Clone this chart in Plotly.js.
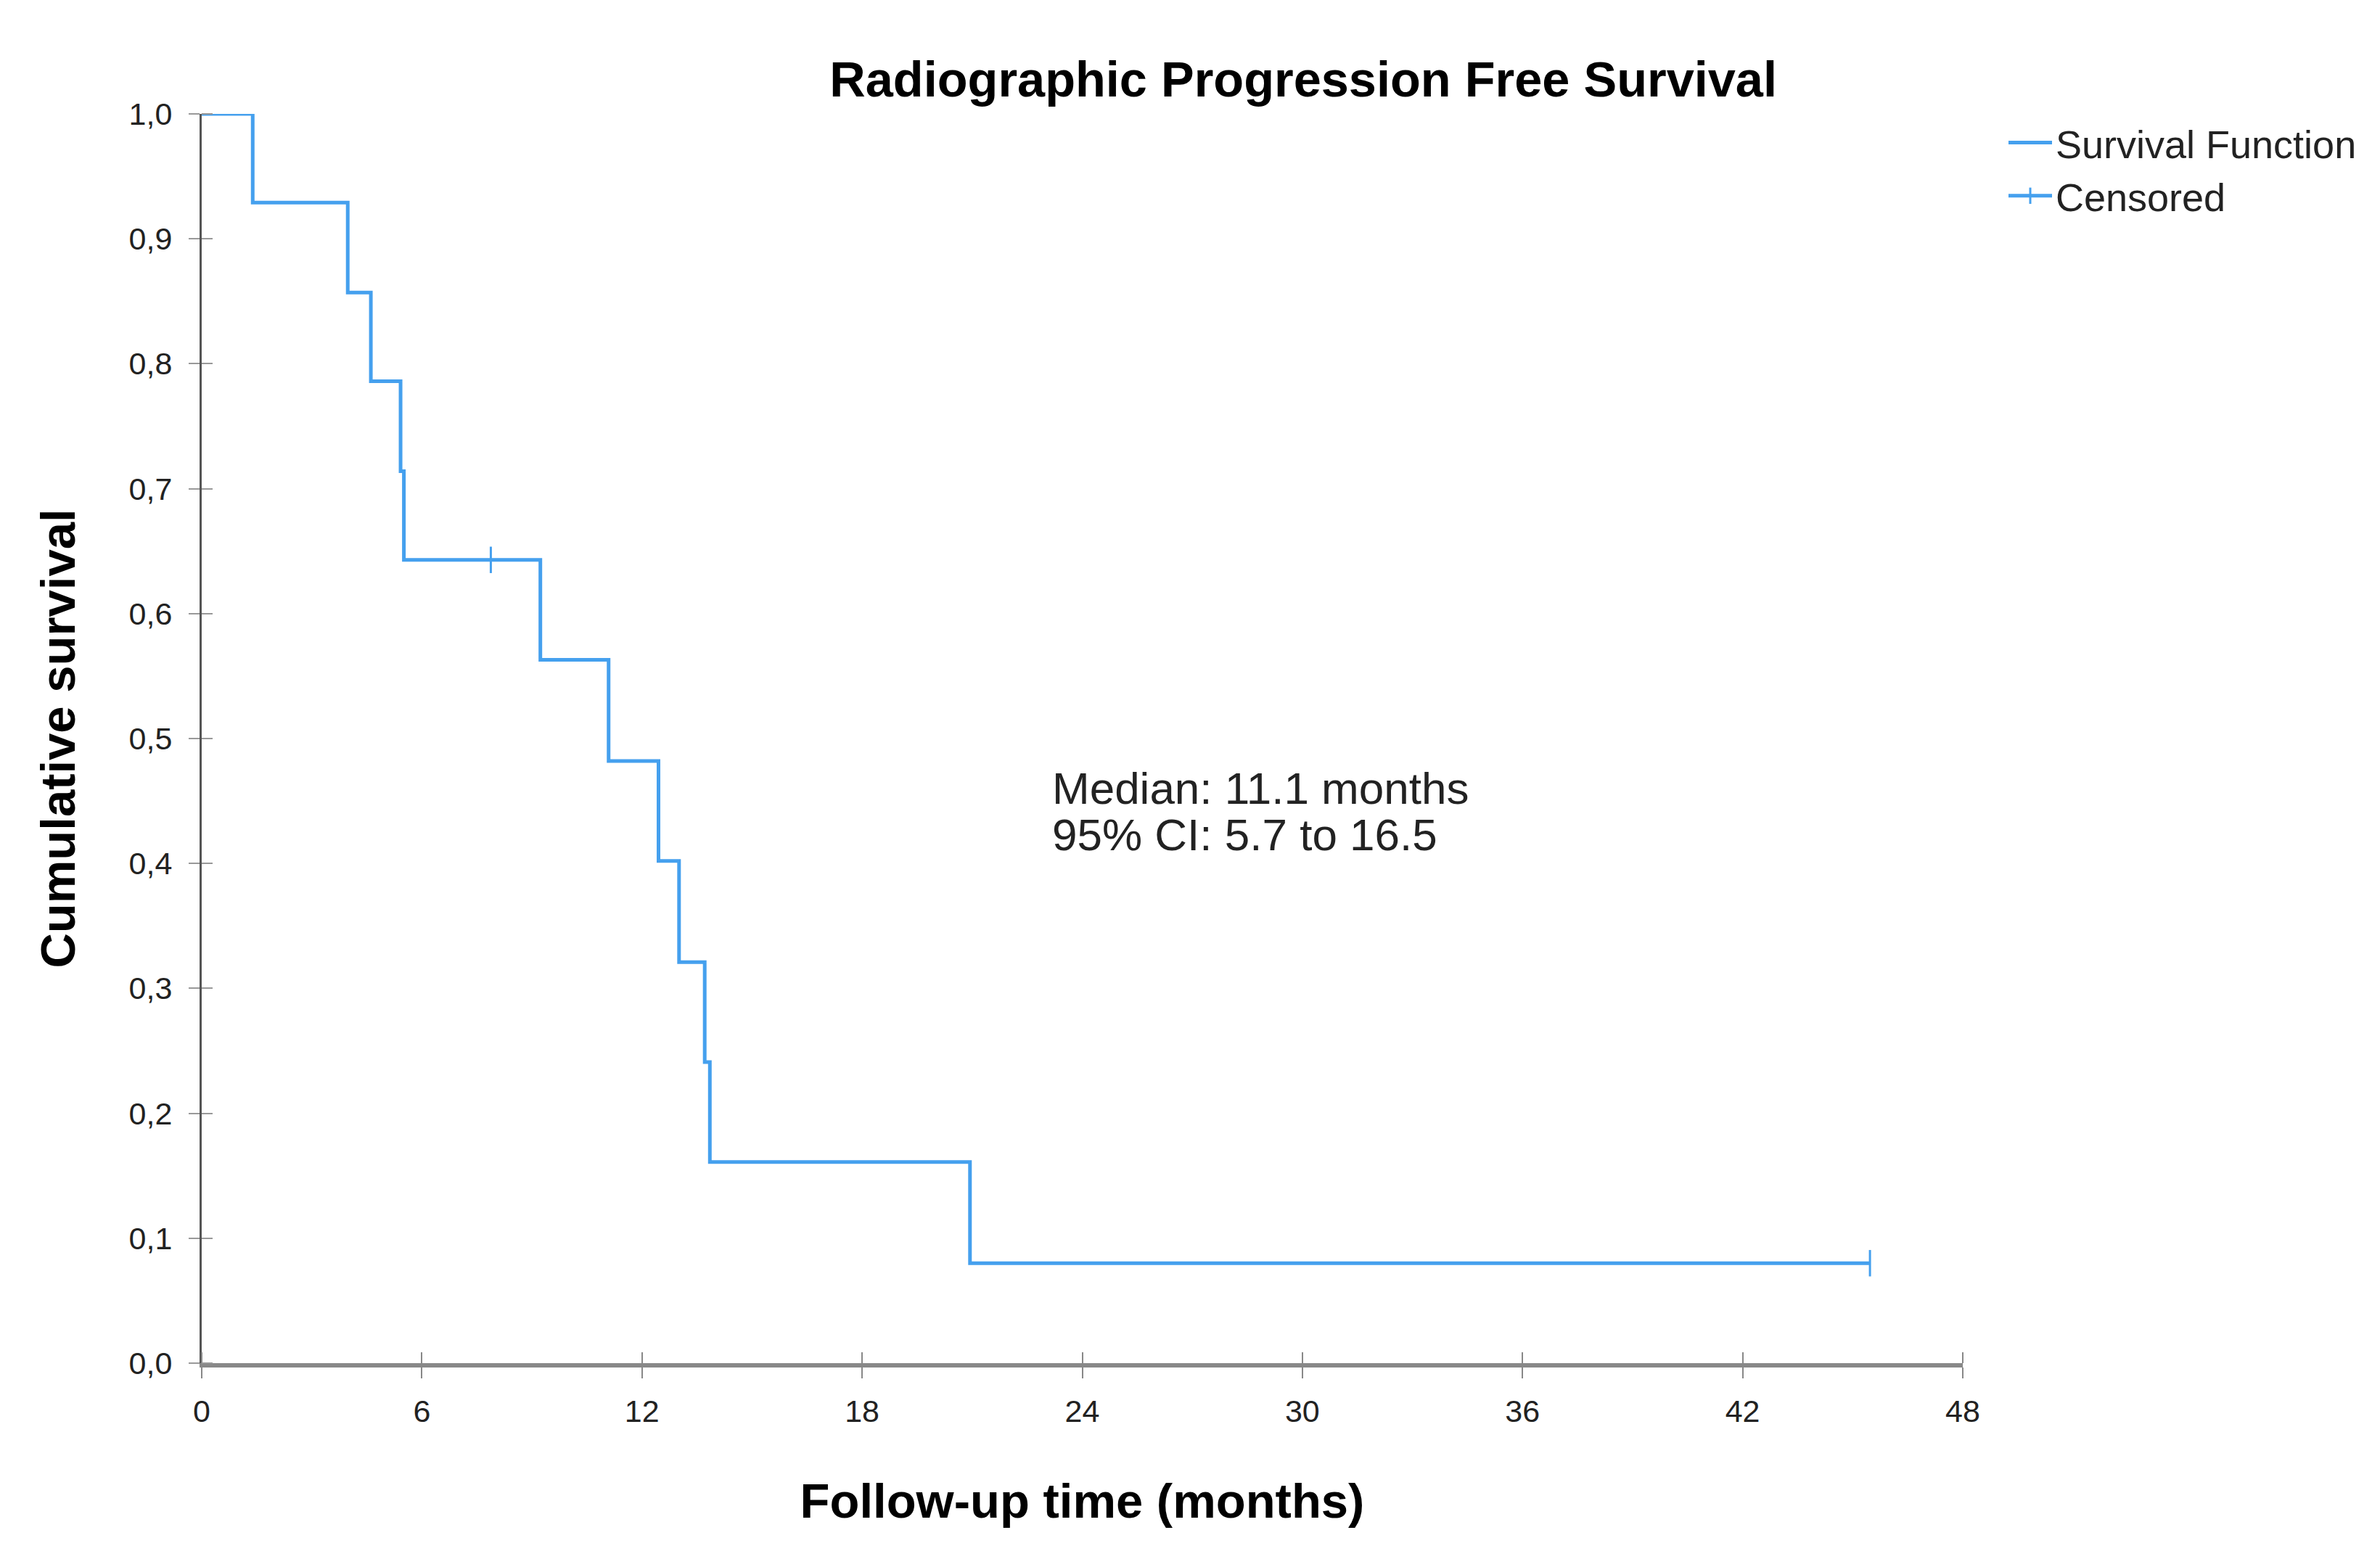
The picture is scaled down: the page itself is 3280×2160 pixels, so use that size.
<!DOCTYPE html>
<html>
<head>
<meta charset="utf-8">
<script src="https://cdn.plot.ly/plotly-3.0.1.min.js"></script>
<style>html,body{margin:0;padding:0;background:#fff;}#chart{width:3280px;height:2160px;}</style>
</head>
<body>
<div id="chart"></div>
<script>
// Kaplan-Meier step data (months, cumulative survival)
const stepTimes = [0, 1.39, 3.98, 4.61, 5.42, 5.51, 9.23, 11.09, 12.45, 13.01, 13.71, 13.85, 20.94, 45.47];
const stepSurvival = [1.0, 0.929, 0.857, 0.786, 0.714, 0.643, 0.563, 0.482, 0.402, 0.321, 0.241, 0.161, 0.080, 0.080];
// Censored observations
const censorTimes = [7.88, null, 45.47];
const censorSurvival = [0.643, null, 0.080];
// Axis ticks
const xTicks = [0, 6, 12, 18, 24, 30, 36, 42, 48];
const yTicks = [0, 0.1, 0.2, 0.3, 0.4, 0.5, 0.6, 0.7, 0.8, 0.9, 1.0];
// Texts
const titleText = "Radiographic Progression Free Survival";
const xTitle = "Follow-up time (months)";
const yTitle = "Cumulative survival";
const medianLines = ["Median: 11.1 months", "95% CI: 5.7 to 16.5"];
const medianPos = {x: 23.14, y: [0.4605, 0.4228]};

const blue = "#45a0ee";
const font = "Liberation Sans, Arial, sans-serif";

const traces = [
  {
    x: stepTimes, y: stepSurvival, type: "scatter", mode: "lines",
    line: {shape: "hv", color: blue, width: 5},
    name: "Survival Function", cliponaxis: false, xaxis: "x", yaxis: "y"
  },
  {
    x: censorTimes, y: censorSurvival, type: "scatter", mode: "lines+markers",
    connectgaps: false,
    line: {color: blue, width: 5},
    marker: {symbol: "line-ns-open", size: 26, color: blue, line: {color: blue, width: 3}},
    name: "Censored", cliponaxis: false, xaxis: "x2", yaxis: "y2"
  }
];

const tickFont = {family: font, size: 43, color: "#222"};

const layout = {
  width: 3280, height: 2160,
  paper_bgcolor: "#fff", plot_bgcolor: "#fff",
  separators: ",.",
  margin: {l: 278, r: 575, t: 157, b: 281, pad: 0},
  title: {
    text: titleText, font: {family: font, size: 68.5, color: "#000", weight: "bold"},
    xref: "container", x: 0.5476, xanchor: "center",
    yref: "container", y: 1 - 109 / 2160, yanchor: "middle"
  },
  xaxis: {
    range: [0, 48], tickvals: xTicks, ticktext: xTicks.map(String),
    ticks: "outside", ticklen: 15, tickwidth: 2, tickcolor: "#888",
    minor: {ticks: "inside", ticklen: 15, tickwidth: 2, tickcolor: "#888",
            tickmode: "array", tickvals: xTicks.map(v => v + 1e-6)},
    showline: true, linecolor: "#888", linewidth: 6,
    showgrid: false, zeroline: false, tickfont: tickFont, ticklabelstandoff: 8,
    title: {text: xTitle, font: {family: font, size: 67, color: "#000", weight: "bold"}, standoff: 79},
    fixedrange: true
  },
  yaxis: {
    range: [0, 1], tickvals: yTicks, tickformat: ".1f",
    ticks: "outside", ticklen: 15, tickwidth: 2, tickcolor: "#999",
    minor: {ticks: "inside", ticklen: 15, tickwidth: 2, tickcolor: "#999",
            tickmode: "array", tickvals: yTicks.map(v => v + 1e-7)},
    showline: true, linecolor: "#555", linewidth: 3,
    showgrid: false, zeroline: false, tickfont: tickFont, ticklabelstandoff: 14,
    title: {text: yTitle, font: {family: font, size: 67, color: "#000", weight: "bold"}, standoff: 53},
    fixedrange: true
  },
  xaxis2: {
    overlaying: "x", anchor: "y2", side: "bottom", range: [0, 48],
    showticklabels: false, showline: false, showgrid: false, zeroline: false, ticks: "", fixedrange: true
  },
  yaxis2: {
    overlaying: "y", anchor: "x2", side: "left", range: [0, 1],
    showticklabels: false, showline: false, showgrid: false, zeroline: false, ticks: "", fixedrange: true
  },
  legend: {
    xref: "container", x: 2763 / 3280, xanchor: "left",
    yref: "container", y: 1 - 155 / 2160, yanchor: "top",
    font: {family: font, size: 54, color: "#222"},
    bgcolor: "rgba(0,0,0,0)", tracegroupgap: 0, itemwidth: 60
  },
  showlegend: true,
  annotations: medianLines.map((t, i) => ({
    text: t, xref: "x", yref: "y", x: medianPos.x, y: medianPos.y[i],
    xanchor: "left", yanchor: "middle", showarrow: false,
    font: {family: font, size: 62, color: "#222"}
  }))
};

Plotly.newPlot("chart", traces, layout, {displayModeBar: false, staticPlot: true});
</script>
</body>
</html>
